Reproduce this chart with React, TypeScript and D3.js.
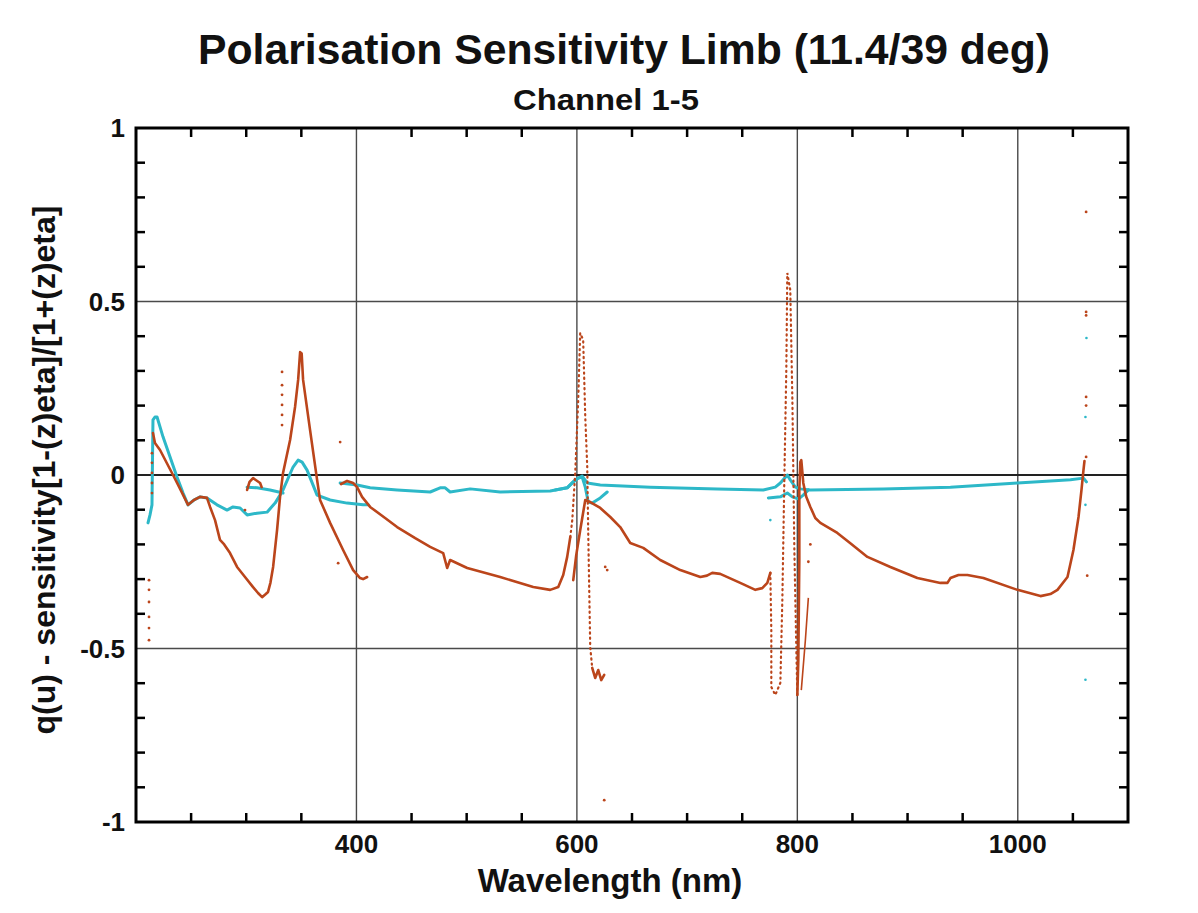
import React, { useEffect } from "react";
import * as d3 from "d3";

type P = [number, number];

// ---- data (wavelength nm, value) ----
const redCurveA: P[] = [[215.4,0.121],[217.2,0.092],[221.8,0.072],[233.6,0.0],[240,-0.04],[247.2,-0.086],[252.6,-0.072],[258.1,-0.063],[264.4,-0.066],[267.2,-0.092],[271.7,-0.13],[276.2,-0.187],[280,-0.2],[285.3,-0.225],[291.7,-0.265],[298.9,-0.294],[306.2,-0.323],[310.7,-0.34],[314.4,-0.352],[317,-0.345],[319.8,-0.337],[322,-0.31],[324.4,-0.265],[328,-0.158],[330.7,-0.063],[333.4,0.006],[339.8,0.101],[344.3,0.196],[347.1,0.274],[348.9,0.354],[350.3,0.35],[351.6,0.274],[357.9,0.13],[364.3,-0.014],[367,-0.072],[376.1,-0.138],[387.9,-0.216],[397,-0.274],[403.3,-0.297],[406,-0.3],[409.7,-0.294]];
const redBump: P[] = [[300.8,-0.043],[303,-0.02],[306.2,-0.009],[309,-0.015],[312.6,-0.023],[314,-0.035]];
const redCurveB: P[] = [[386.1,-0.026],[391.5,-0.017],[397,-0.023],[400.6,-0.035],[405.1,-0.063],[412.4,-0.092],[426,-0.124],[436.9,-0.15],[453.3,-0.182],[466.9,-0.207],[478.7,-0.225],[482.3,-0.268],[485,-0.245],[500.5,-0.268],[530.4,-0.294],[560.4,-0.323],[575.8,-0.331],[583.1,-0.323],[587.6,-0.288],[591.2,-0.236],[594,-0.179]];
const redSpike600: P[] = [[594,-0.179],[595.8,-0.13],[598.5,0.006],[601.2,0.216],[603,0.409],[605.7,0.389],[607.6,0.167],[609.4,0.023],[610.3,-0.167],[612.1,-0.496],[613.9,-0.556]];
const redWiggle600: P[] = [[613.9,-0.556],[616.6,-0.585],[619.4,-0.562],[622.1,-0.591],[624.8,-0.576]];
const redCurveC: P[] = [[596.7,-0.303],[599.4,-0.231],[603,-0.159],[607.6,-0.072],[612.1,-0.078],[621.2,-0.095],[630.3,-0.121],[639.3,-0.15],[648.4,-0.196],[660.2,-0.21],[675.6,-0.245],[693.8,-0.274],[712,-0.294],[718,-0.29],[722.8,-0.282],[730,-0.285],[748.2,-0.311],[761.9,-0.331],[768.2,-0.326],[772.8,-0.311],[775.5,-0.282]];
const redSpike800: P[] = [[775.5,-0.282],[776.4,-0.45],[776.4,-0.611],[780,-0.634],[784.6,-0.599],[786.4,-0.36],[788.2,-0.014],[790,0.303],[790.9,0.582],[793.6,0.533],[795.5,0.216],[797.3,-0.216],[799.1,-0.504],[800,-0.634]];
const redCurveD: P[] = [[800,-0.634],[800.9,-0.533],[801.8,-0.245],[801.8,-0.043],[802.7,0.037],[803.6,0.043],[805.4,-0.023],[808.1,-0.063],[811.8,-0.092],[816.3,-0.124],[820.9,-0.138],[836.3,-0.167],[847.8,-0.196],[863.6,-0.236],[884.4,-0.265],[908.9,-0.297],[929.8,-0.311],[936.2,-0.311],[938.9,-0.297],[946.2,-0.288],[954.3,-0.288],[968.8,-0.297],[999.7,-0.331],[1020.6,-0.349],[1029.6,-0.343],[1036,-0.331],[1045.1,-0.294],[1050.5,-0.216],[1055.1,-0.121],[1057.8,-0.043],[1059.6,0.014],[1060.5,0.04]];
const redRise808: P[] = [[803.6,-0.62],[807.3,-0.476],[810,-0.354]];
const redDots: P[] = [[211.8,-0.303],[211.8,-0.331],[211.8,-0.366],[211.8,-0.409],[211.8,-0.441],[211.8,-0.476],[214.5,0.063],[214.5,0.035],[214.5,0.006],[214.5,-0.023],[214.5,-0.052],[332.5,0.297],[332.5,0.259],[332.5,0.231],[332.5,0.202],[332.5,0.173],[332.5,0.144],[385.2,0.095],[383.4,-0.254],[298.9,-0.101],[625.7,-0.265],[627.5,-0.274],[624.8,-0.937],[810,-0.25],[811.8,-0.2],[1062,0.758],[1062,0.47],[1062,0.46],[1062,0.225],[1062,0.2],[1062,0.052],[1063,-0.29]];

const cyanCurveA: P[] = [[210.9,-0.138],[212.7,-0.115],[214.5,-0.086],[215.4,0.159],[217.2,0.167],[219.1,0.167],[224.5,0.11],[230.9,0.052],[237.2,-0.006],[242.7,-0.052],[247.2,-0.086],[252.6,-0.072],[258.1,-0.063],[264.4,-0.066],[273.5,-0.086],[282.6,-0.101],[288,-0.092],[294.4,-0.095],[300.8,-0.115],[309.8,-0.11],[318.9,-0.107],[326.2,-0.081],[333.4,-0.043],[342.5,0.023],[347.1,0.043],[350.7,0.037],[355.2,0.014],[364.3,-0.058],[376.1,-0.072],[391.5,-0.081],[406,-0.086],[410.6,-0.086]];
const cyanCurveB: P[] = [[300.8,-0.035],[309.8,-0.037],[321.6,-0.043],[333.4,-0.052]];
const cyanCurveC: P[] = [[385.2,-0.023],[400.6,-0.029],[412.4,-0.037],[436.9,-0.043],[466.9,-0.049],[475.9,-0.037],[480.5,-0.037],[485,-0.049],[503.2,-0.04],[530.4,-0.049],[575.8,-0.046],[591.2,-0.037],[596.7,-0.02],[601.2,-0.009],[604.8,-0.006],[607.6,-0.035],[610.3,-0.078],[613.9,-0.081],[621.2,-0.066],[627.5,-0.049]];
const cyanCurveD: P[] = [[580.3,-0.043],[591.2,-0.037],[598.5,-0.014],[604.8,-0.003],[609.4,-0.023],[621.2,-0.029],[666.6,-0.035],[727.4,-0.04],[769.1,-0.043],[780,-0.035],[784.6,-0.023],[790.9,0.0],[793.6,-0.014],[798.2,-0.035],[802.7,-0.04],[811.8,-0.043],[878.1,-0.04],[938.9,-0.035],[999.7,-0.023],[1029.6,-0.017],[1047.8,-0.014],[1059.6,-0.009],[1062.3,-0.02]];
const cyanLoop800: P[] = [[773.7,-0.066],[784.6,-0.063],[790.9,-0.052],[795.5,-0.063],[800.9,-0.069],[805.4,-0.058],[810,-0.043]];
const cyanDots: P[] = [[1062.3,0.395],[1061.4,0.167],[1061.4,-0.086],[1061.4,-0.59],[775.5,-0.13]];

const xMajorTicks = [400, 600, 800, 1000];
const yMajorTicks = [1, 0.5, 0, -0.5, -1];
const yTickLabels = ["1", "0.5", "0", "-0.5", "-1"];

const TITLE = "Polarisation Sensitivity Limb (11.4/39 deg)";
const SUBTITLE = "Channel 1-5";
const X_LABEL = "Wavelength (nm)";
const Y_LABEL = "q(u) - sensitivity[1-(z)eta]/[1+(z)eta]";

const RED = "#bb451b";
const CYAN = "#2db8c8";

export default function App() {
  useEffect(() => {
    document.body.style.margin = "0";
  }, []);

  const W = 1198, H = 913;
  const L = 136, R = 1128, T = 128, B = 822;
  const x = d3.scaleLinear().domain([200, 1100]).range([L, R]);
  const y = d3.scaleLinear().domain([-1, 1]).range([B, T]);
  const line = d3.line<P>().x(d => x(d[0])).y(d => y(d[1])).curve(d3.curveLinear);

  const xMinor = d3.range(250, 1100, 50).filter(v => v % 200 !== 0);
  const yMinor = d3.range(-9, 10).map(v => v / 10).filter(v => Math.abs(v) !== 0.5 && v !== 0);
  const font = "'Liberation Sans', Arial, Helvetica, sans-serif";
  const tl = 9;

  const solidRed = [redCurveA, redBump, redCurveB, redWiggle600, redCurveC, redCurveD];
  const dottedRed = [redSpike600, redSpike800];
  const cyanLines = [cyanCurveA, cyanCurveB, cyanCurveC, cyanCurveD, cyanLoop800];

  return (
    <svg width={W} height={H} style={{ display: "block", position: "absolute", left: 0, top: 0, background: "#fff" }} fontFamily={font}>
      <rect x={0} y={0} width={W} height={H} fill="#fff" />
      {/* grid */}
      {xMajorTicks.map(v => (
        <line key={"gx" + v} x1={x(v)} x2={x(v)} y1={T} y2={B} stroke="#4a4a4a" strokeWidth={1.4} />
      ))}
      {[0.5, -0.5].map(v => (
        <line key={"gy" + v} x1={L} x2={R} y1={y(v)} y2={y(v)} stroke="#4a4a4a" strokeWidth={1.4} />
      ))}
      <line x1={L} x2={R} y1={y(0)} y2={y(0)} stroke="#222" strokeWidth={2} />

      {/* cyan series */}
      {cyanLines.map((s, i) => (
        <path key={"c" + i} d={line(s) || ""} fill="none" stroke={CYAN} strokeWidth={3} strokeLinejoin="round" strokeLinecap="round" />
      ))}
      {cyanDots.map((d, i) => (
        <circle key={"cd" + i} cx={x(d[0])} cy={y(d[1])} r={1.3} fill={CYAN} />
      ))}

      {/* red series */}
      {solidRed.map((s, i) => (
        <path key={"r" + i} d={line(s) || ""} fill="none" stroke={RED} strokeWidth={2.6} strokeLinejoin="round" strokeLinecap="round" />
      ))}
      {dottedRed.map((s, i) => (
        <path key={"rd" + i} d={line(s) || ""} fill="none" stroke={RED} strokeWidth={2.2} strokeDasharray="1.2 4" strokeLinecap="round" />
      ))}
      <path d={line(redRise808) || ""} fill="none" stroke={RED} strokeWidth={1.6} />
      {redDots.map((d, i) => (
        <circle key={"rdt" + i} cx={x(d[0])} cy={y(d[1])} r={1.4} fill={RED} />
      ))}

      {/* ticks */}
      {xMinor.map(v => (
        <g key={"tx" + v}>
          <line x1={x(v)} x2={x(v)} y1={B} y2={B - tl} stroke="#000" strokeWidth={2.5} />
          <line x1={x(v)} x2={x(v)} y1={T} y2={T + tl} stroke="#000" strokeWidth={2.5} />
        </g>
      ))}
      {yMinor.map(v => (
        <g key={"ty" + v}>
          <line x1={L} x2={L + tl} y1={y(v)} y2={y(v)} stroke="#000" strokeWidth={2.5} />
          <line x1={R} x2={R - tl} y1={y(v)} y2={y(v)} stroke="#000" strokeWidth={2.5} />
        </g>
      ))}
      {/* frame */}
      <rect x={L} y={T} width={R - L} height={B - T} fill="none" stroke="#000" strokeWidth={3} />

      {/* tick labels */}
      {xMajorTicks.map(v => (
        <text key={"lx" + v} x={x(v)} y={B + 31} textAnchor="middle" fontSize={26} fontWeight="bold" fill="#111">{v}</text>
      ))}
      {yMajorTicks.map((v, i) => (
        <text key={"ly" + v} x={L - 11} y={y(v) + 9} textAnchor="end" fontSize={26} fontWeight="bold" fill="#111">{yTickLabels[i]}</text>
      ))}

      {/* titles */}
      <text x={624} y={64} textAnchor="middle" fontSize={43} fontWeight="bold" fill="#111" textLength={852} lengthAdjust="spacingAndGlyphs">{TITLE}</text>
      <text x={606} y={110} textAnchor="middle" fontSize={30} fontWeight="bold" fill="#111" textLength={186} lengthAdjust="spacingAndGlyphs">{SUBTITLE}</text>
      <text x={610} y={892} textAnchor="middle" fontSize={33} fontWeight="bold" fill="#111">{X_LABEL}</text>
      <text transform={`translate(55, 470) rotate(-90)`} textAnchor="middle" fontSize={32} fontWeight="bold" fill="#111">{Y_LABEL}</text>
    </svg>
  );
}
